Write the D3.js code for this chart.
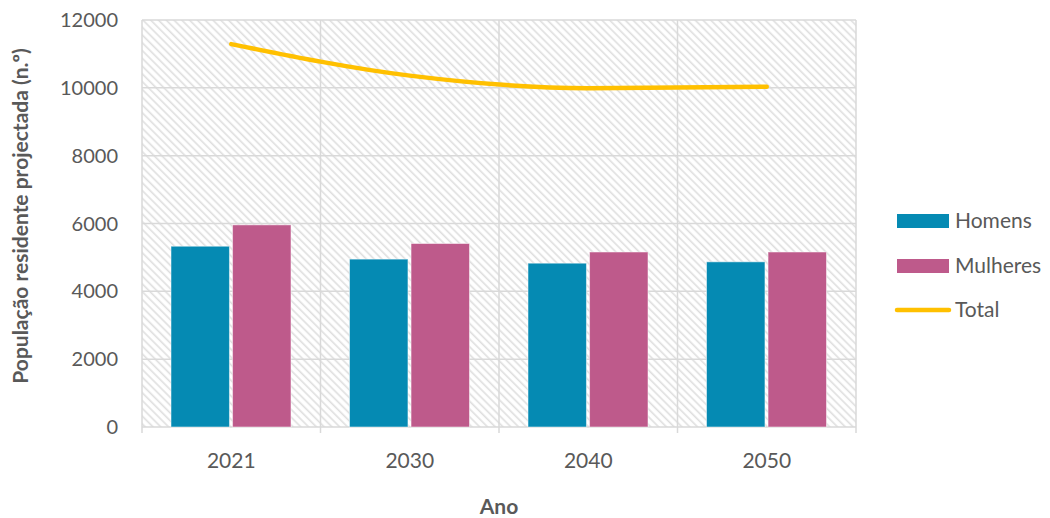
<!DOCTYPE html>
<html><head><meta charset="utf-8">
<script src="https://cdn.jsdelivr.net/npm/d3@7"></script>
<style>body{margin:0;background:#fff}svg{display:block}text{font-family:Lato,"Open Sans",sans-serif;fill:#595959}</style>
</head><body><svg id="c" width="1050" height="518"></svg>
<script>
const years = ["2021","2030","2040","2050"];
const homens = [5330, 4950, 4830, 4870];
const mulheres = [5960, 5410, 5160, 5160];
const total = [11290, 10360, 9990, 10030];
const yTicks = [0,2000,4000,6000,8000,10000,12000];
const seriesNames = ["Homens","Mulheres","Total"];
const colors = {Homens:"#058AB3", Mulheres:"#BE5A8B", Total:"#FFC000"};

const svg = d3.select("#c");
const L=142,R=856,T=20,B=427;
const x = d3.scaleBand().domain(years).range([L,R]);
const y = d3.scaleLinear().domain([0,12000]).range([B,T]);
const inner = d3.scaleBand().domain(["Homens","Mulheres"]).range([29,29+120]).paddingInner(0.05);

const defs = svg.append("defs");
const pat = defs.append("pattern").attr("id","hatch").attr("patternUnits","userSpaceOnUse")
  .attr("width",5.5).attr("height",5.5).attr("patternTransform","rotate(45)");
pat.append("rect").attr("width",5.5).attr("height",5.5).attr("fill","#fff");
pat.append("line").attr("x1",0).attr("y1",1.2).attr("x2",5.5).attr("y2",1.2).attr("stroke","#dedede").attr("stroke-width",1.6);

svg.append("rect").attr("x",L).attr("y",T).attr("width",R-L).attr("height",B-T).attr("fill","url(#hatch)");

// grid
svg.append("g").selectAll("line").data(yTicks).join("line")
  .attr("x1",L).attr("x2",R).attr("y1",d=>y(d)).attr("y2",d=>y(d))
  .attr("stroke","#d9d9d9").attr("stroke-width",1.5);
const bounds = years.map(d=>x(d)).concat([R]);
svg.append("g").selectAll("line").data(bounds).join("line")
  .attr("x1",d=>d).attr("x2",d=>d).attr("y1",T).attr("y2",B+6)
  .attr("stroke","#d9d9d9").attr("stroke-width",1.5);

// y axis labels
svg.append("g").selectAll("text").data(yTicks).join("text")
  .attr("x",118).attr("y",d=>y(d)).attr("dy","0.35em").attr("text-anchor","end")
  .attr("font-size",20).text(d=>d);
// x labels
svg.append("g").selectAll("text").data(years).join("text")
  .attr("x",d=>x(d)+x.bandwidth()/2).attr("y",461).attr("dy","0.35em").attr("text-anchor","middle")
  .attr("font-size",21).text(d=>d);

// bars
const bars = [];
years.forEach((yr,i)=>{bars.push({yr,s:"Homens",v:homens[i]});bars.push({yr,s:"Mulheres",v:mulheres[i]});});
svg.append("g").selectAll("rect").data(bars).join("rect")
  .attr("x",d=>x(d.yr)+inner(d.s)).attr("width",inner.bandwidth())
  .attr("y",d=>y(d.v)).attr("height",d=>B-y(d.v))
  .attr("fill",d=>colors[d.s]).attr("stroke","#fff").attr("stroke-opacity",0.5).attr("stroke-width",1);

// line
const line = d3.line().x((d,i)=>x(years[i])+x.bandwidth()/2).y(d=>y(d)).curve(d3.curveMonotoneX);
svg.append("path").datum(total).attr("d",line).attr("fill","none")
  .attr("stroke",colors.Total).attr("stroke-width",4.5).attr("stroke-linecap","round");

// axis titles
svg.append("text").attr("x",499).attr("y",507).attr("dy","0.35em").attr("text-anchor","middle")
  .attr("font-size",21).attr("font-weight","bold").text("Ano");
svg.append("text").attr("transform","translate(21,216) rotate(-90)").attr("dy","0.35em").attr("text-anchor","middle")
  .attr("font-size",21).attr("font-weight","bold").text("População residente projectada (n.º)");

// legend
const lg = svg.append("g");
const ly = [221,266,310];
seriesNames.forEach((s,i)=>{
  if(s==="Total"){
    lg.append("line").attr("x1",897).attr("x2",949).attr("y1",ly[i]).attr("y2",ly[i])
      .attr("stroke",colors[s]).attr("stroke-width",4.5).attr("stroke-linecap","round");
  } else {
    lg.append("rect").attr("x",897).attr("y",ly[i]-7).attr("width",52).attr("height",14).attr("fill",colors[s]);
  }
  lg.append("text").attr("x",955).attr("y",ly[i]).attr("dy","0.35em").attr("font-size",21).text(s);
});
</script></body></html>
